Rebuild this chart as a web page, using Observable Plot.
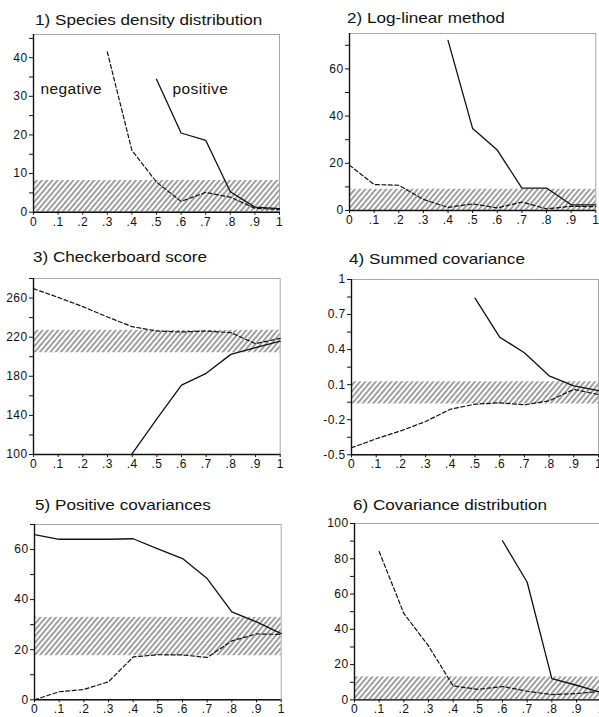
<!DOCTYPE html>
<html><head><meta charset="utf-8">
<script src="https://cdn.jsdelivr.net/npm/d3@7"></script>
<script src="https://cdn.jsdelivr.net/npm/@observablehq/plot@0.6"></script>
<style>
html,body{margin:0;padding:0;background:#fff;overflow:hidden}
#wrap{position:relative;width:599px;height:717px;overflow:hidden;background:#fff}
.ttl{position:absolute;font-family:"Liberation Sans",Arial,sans-serif;font-size:14.5px;line-height:14.5px;white-space:nowrap;transform-origin:0 0;transform:scaleX(1.18);color:#111}
.pl{position:absolute}
</style></head><body><div id="wrap"></div>
<script>
// ---- data ----
const xs = [0, 0.1, 0.2, 0.3, 0.4, 0.5, 0.6, 0.7, 0.8, 0.9, 1];
const xTickLabels = ["0", ".1", ".2", ".3", ".4", ".5", ".6", ".7", ".8", ".9", "1"];

const titles = ["1) Species density distribution", "2) Log-linear method", "3) Checkerboard score",
                "4) Summed covariance", "5) Positive covariances", "6) Covariance distribution"];

const neg1 = [null, null, null, 41.5, 16, 7.8, 2.8, 5.1, 3.9, 1.0, 0.7];
const pos1 = [null, null, null, null, null, 34.4, 20.5, 18.6, 5.3, 1.3, 0.9];
const band1 = [0, 8.2];

const neg2 = [19.2, 11, 10.7, 4.7, 1.3, 2.8, 1.1, 3.6, 0.7, 1.8, 1.6];
const pos2 = [null, null, null, null, 72.1, 34.7, 25.6, 9.5, 9.5, 2.4, 2.4];
const band2 = [0, 9];

const neg3 = [269.6, 260.7, 251.2, 240.6, 230.7, 226.3, 225.3, 226.3, 224.6, 213.3, 218.8];
const pos3 = [null, null, null, null, 101, 136.5, 171, 183, 202.4, 209.2, 216];
const band3 = [204, 227];

const neg4 = [-0.44, -0.363, -0.295, -0.215, -0.11, -0.067, -0.055, -0.072, -0.038, 0.059, 0.016];
const pos4 = [null, null, null, null, null, 0.84, 0.507, 0.373, 0.176, 0.09, 0.05];
const band4 = [-0.065, 0.125];

const neg5 = [0, 3.2, 4.1, 7.2, 17.1, 18, 17.9, 16.9, 23.5, 26.3, 26.1];
const pos5 = [66, 64.1, 64.1, 64.1, 64.3, 60.3, 56.4, 48.4, 35.1, 31.1, 26.4];
const band5 = [17.6, 32.9];

const neg6 = [null, 84.1, 49, 30.6, 7.9, 6, 7.6, 4.9, 3, 3.6, 4.9];
const pos6 = [null, null, null, null, null, null, 90.2, 66.7, 12.1, 8.3, 4.2];
const band6 = [0, 13];

const yMajor1 = [0, 10, 20, 30, 40], yMinor1 = [5, 15, 25, 35, 45];
const yMajor2 = [0, 20, 40, 60], yMinor2 = [10, 30, 50, 70];
const yMajor3 = [100, 140, 180, 220, 260], yMinor3 = [120, 160, 200, 240, 280];
const yMajor4 = [-0.5, -0.2, 0.1, 0.4, 0.7, 1], yMinor4 = [-0.35, -0.05, 0.25, 0.55, 0.85];
const yMajor5 = [0, 20, 40, 60], yMinor5 = [10, 30, 50, 70];
const yMajor6 = [0, 20, 40, 60, 80, 100], yMinor6 = [10, 30, 50, 70, 90];

const seriesLabels = ["negative", "positive"];

// ---- layout ----
const panels = [
  {neg: neg1, pos: pos1, band: band1, major: yMajor1, minor: yMinor1, domain: [0, 46],
   L: 33.3, R: 279.3, T: 34.3, B: 212, tx: 35, tb: 25,
   notes: [{x: 0.028, y: 32}, {x: 0.565, y: 32}]},
  {neg: neg2, pos: pos2, band: band2, major: yMajor2, minor: yMinor2, domain: [0, 75],
   L: 348.7, R: 595, T: 33, B: 210, tx: 346.7, tb: 23.5},
  {neg: neg3, pos: pos3, band: band3, major: yMajor3, minor: yMinor3, domain: [100, 280],
   L: 33.3, R: 280, T: 277.5, B: 453.5, tx: 33.3, tb: 262.7},
  {neg: neg4, pos: pos4, band: band4, major: yMajor4, minor: yMinor4, domain: [-0.5, 1],
   L: 350.7, R: 597.7, T: 279, B: 454.3, tx: 349.3, tb: 264.3},
  {neg: neg5, pos: pos5, band: band5, major: yMajor5, minor: yMinor5, domain: [0, 70],
   L: 34.3, R: 281, T: 524, B: 699.3, tx: 35, tb: 510},
  {neg: neg6, pos: pos6, band: band6, major: yMajor6, minor: yMinor6, domain: [0, 100],
   L: 354.3, R: 601, T: 523.3, B: 699.7, tx: 353.3, tb: 510}
];

const wrap = document.getElementById("wrap");
const mL = 40, mR = 12, mT = 10, mB = 30;
const FONT = "'Liberation Sans', Arial, sans-serif";

panels.forEach((p, i) => {
  const w = (p.R - p.L) + mL + mR, h = (p.B - p.T) + mT + mB;
  const yt = [...p.major, ...p.minor].sort((a, b) => a - b);
  const marks = [
    Plot.rect([{x1: 0, x2: 1, y1: p.band[0], y2: p.band[1]}],
      {x1: "x1", x2: "x2", y1: "y1", y2: "y2", fill: `url(#hatch${i})`}),
    Plot.frame({stroke: "#a8a8a8", strokeWidth: 1}),
    Plot.line(p.neg, {x: (d, j) => xs[j], y: d => d, stroke: "#111", strokeWidth: 1.2, strokeDasharray: "4,2.5"}),
    Plot.line(p.pos, {x: (d, j) => xs[j], y: d => d, stroke: "#111", strokeWidth: 1.3}),
    Plot.ruleX([0], {stroke: "#111", strokeWidth: 1.4}),
    Plot.ruleY([p.domain[0]], {stroke: "#111", strokeWidth: 1.4}),
    Plot.axisX({ticks: xs, tickFormat: (d) => xTickLabels[xs.indexOf(d)], tickSize: 3, tickPadding: 2,
      stroke: "#111", fill: "#111", label: null, fontSize: 12}),
    Plot.axisY({ticks: yt, tickFormat: d => p.major.includes(d) ? String(d) : "", tickSize: 4, tickPadding: 2,
      stroke: "#111", fill: "#111", label: null, fontSize: 12})
  ];
  if (p.notes) {
    marks.push(Plot.text(seriesLabels, {x: (d, j) => p.notes[j].x, y: (d, j) => p.notes[j].y, text: d => d,
      textAnchor: "start", fontSize: 15.5, fill: "#111"}));
  }
  const plot = Plot.plot({
    width: w, height: h, marginLeft: mL, marginRight: mR, marginTop: mT, marginBottom: mB,
    x: {domain: [0, 1]}, y: {domain: p.domain},
    style: {fontFamily: FONT, fontSize: "12px", color: "#111", background: "transparent", letterSpacing: "0.4px", overflow: "visible"},
    marks
  });
  const s = d3.select(plot);
  const defs = s.insert("defs", ":first-child");
  const pat = defs.append("pattern").attr("id", `hatch${i}`).attr("patternUnits", "userSpaceOnUse")
    .attr("width", 4).attr("height", 10).attr("patternTransform", "rotate(40)");
  pat.append("line").attr("x1", 2).attr("y1", 0).attr("x2", 2).attr("y2", 10)
    .attr("stroke", "#2a2a2a").attr("stroke-width", 0.9);
  plot.classList.add("pl");
  plot.style.left = (p.L - mL) + "px";
  plot.style.top = (p.T - mT) + "px";
  wrap.appendChild(plot);

  const t = document.createElement("div");
  t.className = "ttl";
  t.textContent = titles[i];
  t.style.left = p.tx + "px";
  t.style.top = (p.tb - 12.3) + "px";
  wrap.appendChild(t);
});
</script>
</body></html>
